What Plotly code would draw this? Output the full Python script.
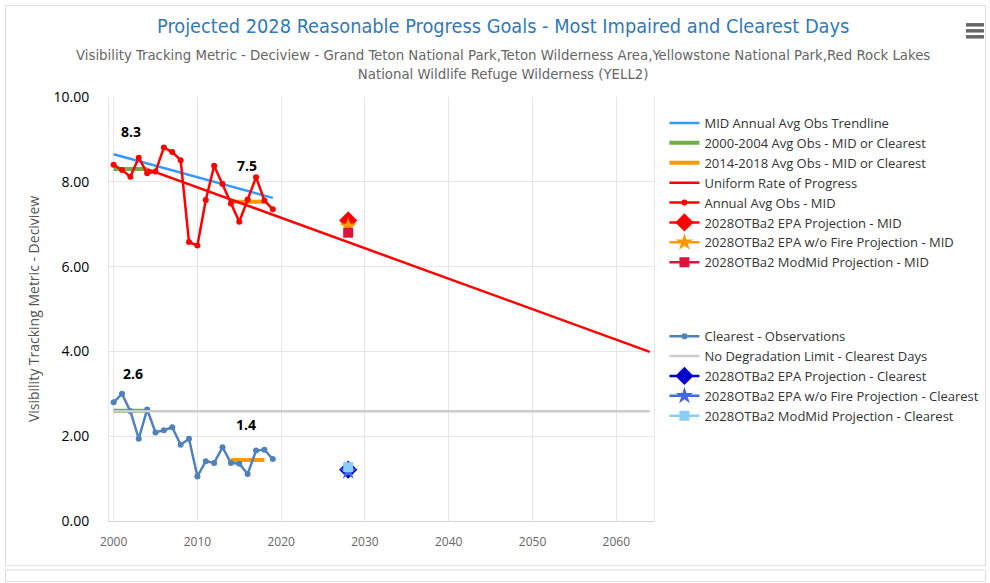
import plotly.graph_objects as go

# ---------------- data ----------------
years = list(range(2000, 2020))
mid_obs = [8.40, 8.28, 8.12, 8.57, 8.20, 8.24, 8.81, 8.70, 8.51, 6.58,
           6.50, 7.57, 8.38, 7.95, 7.49, 7.06, 7.58, 8.11, 7.56, 7.35]
clear_obs = [2.80, 3.00, 2.59, 1.94, 2.63, 2.09, 2.14, 2.21, 1.80, 1.94,
             1.05, 1.41, 1.37, 1.74, 1.37, 1.35, 1.11, 1.66, 1.68, 1.46]

trend_years = [2000, 2019]
trend_vals = [8.65, 7.62]

base_years = [2000, 2004]
base_mid = 8.3
base_clear = 2.6
recent_years = [2014, 2018]
recent_mid = 7.53
recent_clear = 1.44

urp_years = [2004, 2064]
urp_vals = [8.3, 3.99]

nodeg_years = [2000, 2064]
nodeg_val = 2.59

proj_year = 2028
proj_mid_epa = 7.09
proj_mid_nofire = 6.95
proj_mid_modmid = 6.80
proj_clear_epa = 1.21
proj_clear_nofire = 1.17
proj_clear_modmid = 1.27

label_vals = ["8.3", "7.5", "2.6", "1.4"]
label_years = [2002.1, 2015.9, 2002.3, 2015.8]
label_y = [8.3, 7.5, 2.6, 1.4]

x_ticks = [2000, 2010, 2020, 2030, 2040, 2050, 2060]
y_ticks = [0, 2, 4, 6, 8, 10]

title = "Projected 2028 Reasonable Progress Goals - Most Impaired and Clearest Days"
subtitle = ("Visibility Tracking Metric - Deciview - Grand Teton National Park,Teton Wilderness Area,"
            "Yellowstone National Park,Red Rock Lakes<br>National Wildlife Refuge Wilderness (YELL2)")
y_title = "Visibility Tracking Metric - Deciview"

# ---------------- layout geometry (target image px) ----------------
SX = 996 / 990          # small horizontal correction for the photographed page
W, H = 996, 583
L = round(108 * SX)
T = 97
R = W - round(655 * SX)
B = H - 521.5
pw = W - L - R
ph = H - T - B


def px_x(p):  # target image px -> paper
    return (p * SX - L) / pw


def px_y(p):
    return 1 - (p - T) / ph


fig = go.Figure()


def add(tr):
    fig.add_trace(tr)


add(go.Scatter(x=trend_years, y=trend_vals, mode="lines", name="MID Annual Avg Obs Trendline",
               line=dict(color="#3399ff", width=2.5), legendgroup="mid"))
add(go.Scatter(x=base_years, y=[base_mid, base_mid], mode="lines", name="2000-2004 Avg Obs - MID or Clearest",
               line=dict(color="#70ad47", width=4), legendgroup="mid"))
add(go.Scatter(x=recent_years, y=[recent_mid, recent_mid], mode="lines", name="2014-2018 Avg Obs - MID or Clearest",
               line=dict(color="#ff9900", width=4), legendgroup="mid"))
add(go.Scatter(x=urp_years, y=urp_vals, mode="lines", name="Uniform Rate of Progress",
               line=dict(color="#ff0000", width=2.5), legendgroup="mid"))
add(go.Scatter(x=years, y=mid_obs, mode="lines+markers", name="Annual Avg Obs - MID",
               line=dict(color="#ff0000", width=2.5), marker=dict(size=6, color="#ff0000"), legendgroup="mid"))
add(go.Scatter(x=[proj_year], y=[proj_mid_epa], mode="lines+markers", name="2028OTBa2 EPA Projection - MID",
               line=dict(color="#ff0000", width=2.5),
               marker=dict(symbol="diamond", size=14, color="#ff0000"), legendgroup="mid"))
add(go.Scatter(x=[proj_year], y=[proj_mid_nofire], mode="lines+markers", name="2028OTBa2 EPA w/o Fire Projection - MID",
               line=dict(color="#ff9900", width=2.5),
               marker=dict(symbol="star", size=13, color="#ff9900"), legendgroup="mid"))
add(go.Scatter(x=[proj_year], y=[proj_mid_modmid], mode="lines+markers", name="2028OTBa2 ModMid Projection - MID",
               line=dict(color="#dc143c", width=2.5),
               marker=dict(symbol="square", size=10, color="#dc143c"), legendgroup="mid"))

add(go.Scatter(x=base_years, y=[base_clear, base_clear], mode="lines", showlegend=False,
               line=dict(color="#70ad47", width=4), legendgroup="clear"))
add(go.Scatter(x=recent_years, y=[recent_clear, recent_clear], mode="lines", showlegend=False,
               line=dict(color="#ff9900", width=4), legendgroup="clear"))
add(go.Scatter(x=years, y=clear_obs, mode="lines+markers", name="Clearest - Observations",
               line=dict(color="#4f81bd", width=2.5), marker=dict(size=6, color="#4f81bd"), legendgroup="clear"))
add(go.Scatter(x=nodeg_years, y=[nodeg_val, nodeg_val], mode="lines", name="No Degradation Limit - Clearest Days",
               line=dict(color="#cccccc", width=2.5), legendgroup="clear"))
add(go.Scatter(x=[proj_year], y=[proj_clear_epa], mode="lines+markers", name="2028OTBa2 EPA Projection - Clearest",
               line=dict(color="#0000cc", width=2.5),
               marker=dict(symbol="diamond", size=14, color="#0000cc"), legendgroup="clear"))
add(go.Scatter(x=[proj_year], y=[proj_clear_nofire], mode="lines+markers", name="2028OTBa2 EPA w/o Fire Projection - Clearest",
               line=dict(color="#4169e1", width=2.5),
               marker=dict(symbol="star", size=13, color="#4169e1"), legendgroup="clear"))
add(go.Scatter(x=[proj_year], y=[proj_clear_modmid], mode="lines+markers", name="2028OTBa2 ModMid Projection - Clearest",
               line=dict(color="#87cefa", width=2.5),
               marker=dict(symbol="square", size=10, color="#87cefa"), legendgroup="clear"))

annotations = []
for lx, ly, lt in zip(label_years, label_y, label_vals):
    annotations.append(dict(x=lx, y=ly, text="<b>" + lt + "</b>", showarrow=False, yshift=37.5,
                            xref="x", yref="y", xanchor="center", yanchor="middle",
                            font=dict(size=14, color="#000000", family="Open Sans")))

narrow = "Liberation Sans Narrow, DejaVu Sans Condensed, Liberation Sans, sans-serif"
annotations.append(dict(x=px_x(504), y=px_y(26), xref="paper", yref="paper", showarrow=False,
                        xanchor="center", yanchor="middle",
                        text=title, font=dict(size=19.8, color="#2f7ab8", family=narrow)))
annotations.append(dict(x=px_x(504), y=px_y(64), xref="paper", yref="paper", showarrow=False,
                        xanchor="center", yanchor="middle",
                        text=subtitle, font=dict(size=14.8, color="#666666", family=narrow)))

shapes = [
    dict(type="rect", xref="paper", yref="paper", x0=px_x(4.5), x1=px_x(987.5), y0=px_y(566), y1=px_y(5.5),
         line=dict(color="#dddddd", width=1), fillcolor="rgba(0,0,0,0)", layer="below"),
    dict(type="rect", xref="paper", yref="paper", x0=px_x(4.5), x1=px_x(987.5), y0=px_y(582), y1=px_y(570.5),
         line=dict(color="#dddddd", width=1), fillcolor="rgba(0,0,0,0)", layer="below"),
]
for yy in [23, 29, 35]:
    shapes.append(dict(type="rect", xref="paper", yref="paper", x0=px_x(968), x1=px_x(986),
                       y0=px_y(yy + 3.5), y1=px_y(yy), line=dict(width=0), fillcolor="#666666"))

fig.update_layout(
    width=W, height=H,
    margin=dict(l=L, r=R, t=T, b=B, pad=0),
    paper_bgcolor="white", plot_bgcolor="white",
    font=dict(family="Open Sans, sans-serif", color="#333333"),
    showlegend=True,
    legend=dict(x=px_x(665.5), y=px_y(108), xanchor="left", yanchor="top", tracegroupgap=54,
                font=dict(size=13, color="#333333", family="Open Sans"), bgcolor="rgba(0,0,0,0)",
                itemwidth=30),
    xaxis=dict(range=[1999.45, 2064.5], tickmode="array", tickvals=x_ticks,
               showgrid=True, gridcolor="#e6e6e6", gridwidth=1, zeroline=False,
               showline=True, linecolor="#ccd6eb", linewidth=1, mirror=False,
               ticklabelstandoff=10,
               tickfont=dict(size=12, color="#666666", family="Open Sans"), ticks="", ticklen=0),
    yaxis=dict(range=[0, 10], tickmode="array", tickvals=y_ticks, tickformat=".2f",
               showgrid=True, gridcolor="#e6e6e6", gridwidth=1, zeroline=False,
               showline=True, linecolor="#e6e6e6", linewidth=1, mirror=True,
               ticklabelstandoff=16,
               tickfont=dict(size=14, color="#000000", family="Open Sans"),
               title=dict(text=y_title, standoff=10,
                          font=dict(size=14, color="#555555", family="Open Sans"))),
    annotations=annotations,
    shapes=shapes,
)

fig.write_html(
    "out.html",
    config={"displayModeBar": False},
    post_script="document.documentElement.style.overflow='hidden';"
                "document.body.style.overflow='hidden';document.body.style.margin='0';",
)
